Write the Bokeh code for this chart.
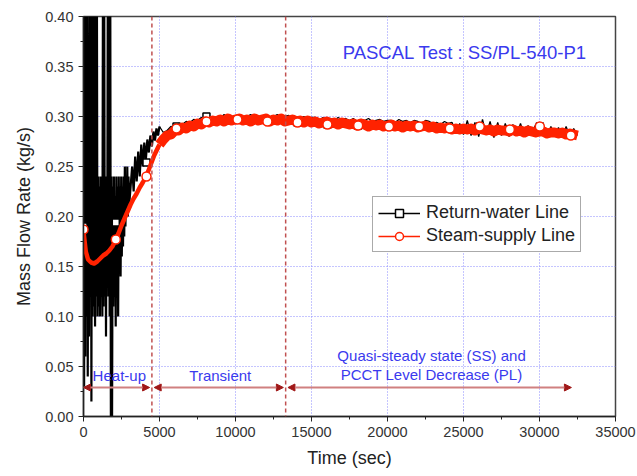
from bokeh.plotting import figure
from bokeh.models import (Range1d, Span, Arrow, NormalHead, Label, Legend, LegendItem,
                          NumeralTickFormatter, FixedTicker)
from bokeh.embed import file_html
from bokeh.resources import INLINE

# ---------------- data ----------------
# Return-water line (black, noisy)
black_early_t = list(range(0, 3001, 40))
black_early_v = [0.19, 0.03, 0.45, 0.06, 0.45, 0.10, 0.45, 0.04, 0.30, 0.08,
                 0.45, 0.12, 0.45, 0.015, 0.45, 0.10, 0.45, 0.11, 0.45, 0.09,
                 0.45, 0.12, 0.45, 0.10, 0.24,
                 0.11, 0.23, 0.10, 0.24, 0.12, 0.22, 0.10, 0.45, 0.11, 0.45,
                 0.12, 0.24, 0.08, 0.23, 0.13, 0.45, 0.12, 0.45, 0.10, 0.45,
                 0.0, 0.24, 0.0, 0.23, 0.11,
                 0.24, 0.12, 0.22, 0.09, 0.24, 0.13, 0.23, 0.10, 0.24, 0.15,
                 0.23, 0.14, 0.24, 0.16, 0.23, 0.17, 0.24, 0.18, 0.25, 0.19,
                 0.24, 0.20, 0.25, 0.20, 0.24,
                 0.21]
black_mid_t = list(range(3100, 5001, 100))
black_mid_v = [0.23, 0.25, 0.225, 0.26, 0.235, 0.265, 0.24, 0.272, 0.25, 0.274,
               0.256, 0.277, 0.264, 0.281, 0.27, 0.285, 0.276, 0.288, 0.281, 0.29]
black_late_t = list(range(5250, 32501, 250))
black_late_v = [0.284, 0.286, 0.290, 0.289, 0.293, 0.292, 0.295, 0.294, 0.297, 0.296,
                0.299, 0.296, 0.301, 0.297, 0.300, 0.298, 0.302, 0.297, 0.300, 0.299,
                0.301, 0.297, 0.300, 0.302, 0.298, 0.301, 0.297, 0.302, 0.299, 0.300,
                0.302, 0.298, 0.300, 0.301, 0.297, 0.300, 0.298, 0.300, 0.297, 0.299,
                0.299, 0.296, 0.299, 0.297, 0.298, 0.296, 0.299, 0.297, 0.298, 0.296,
                0.298, 0.295, 0.297, 0.296, 0.298, 0.295, 0.296, 0.297, 0.295, 0.296,
                0.296, 0.294, 0.297, 0.295, 0.296, 0.294, 0.296, 0.295, 0.293, 0.296,
                0.295, 0.293, 0.294, 0.292, 0.295, 0.293, 0.294, 0.284, 0.293, 0.282,
                0.296, 0.281, 0.294, 0.280, 0.297, 0.282, 0.295, 0.279, 0.294, 0.281,
                0.293, 0.280, 0.292, 0.282, 0.293, 0.281, 0.291, 0.282, 0.292, 0.281,
                0.291, 0.280, 0.290, 0.281, 0.289, 0.279, 0.290, 0.280, 0.288, 0.281]

# Steam-supply line (red)
red_early_t = [0, 150, 300, 500, 700, 900, 1100, 1300, 1500, 1700, 1900, 2100, 2300,
               2500, 2700, 2900, 3100, 3300, 3500, 3700, 3900, 4150, 4400, 4650, 4900, 5000]
red_early_v = [0.185, 0.165, 0.157, 0.154, 0.153, 0.155, 0.158, 0.161, 0.163, 0.166,
               0.170, 0.176, 0.183, 0.191, 0.198, 0.205, 0.212, 0.218, 0.223, 0.229,
               0.234, 0.241, 0.251, 0.261, 0.269, 0.272]
red_late_t = [5000] + list(range(5250, 32501, 250))
red_late_v = [0.272,
              0.277, 0.281, 0.282, 0.286, 0.286, 0.289, 0.288, 0.291, 0.290, 0.293,
              0.292, 0.295, 0.294, 0.296, 0.295, 0.297, 0.295, 0.298, 0.296, 0.297,
              0.298, 0.296, 0.297, 0.295, 0.298, 0.296, 0.297, 0.298, 0.295, 0.297,
              0.296, 0.298, 0.295, 0.296, 0.297, 0.295, 0.296, 0.294, 0.296, 0.294,
              0.295, 0.293, 0.294, 0.295, 0.293, 0.294, 0.292, 0.294, 0.293, 0.292,
              0.293, 0.291, 0.293, 0.292, 0.290, 0.292, 0.291, 0.292, 0.290, 0.291,
              0.292, 0.290, 0.291, 0.289, 0.291, 0.290, 0.291, 0.289, 0.290, 0.291,
              0.289, 0.290, 0.288, 0.289, 0.288, 0.289, 0.287, 0.288, 0.287, 0.288,
              0.287, 0.288, 0.286, 0.288, 0.287, 0.286, 0.287, 0.285, 0.287, 0.286,
              0.286, 0.285, 0.287, 0.285, 0.286, 0.284, 0.286, 0.285, 0.284, 0.285,
              0.285, 0.283, 0.284, 0.284, 0.283, 0.284, 0.282, 0.283, 0.282, 0.281]

# Markers
marker_t = [0, 2125, 4145, 6120, 8090, 10130, 12100, 14080, 16050, 18070, 20100,
            22080, 24100, 26070, 28050, 30020, 32060]
red_marker_v = [0.187, 0.177, 0.240, 0.288, 0.295, 0.297, 0.295, 0.294, 0.292, 0.291,
                0.290, 0.290, 0.288, 0.290, 0.287, 0.290, 0.281]
black_marker_v = [0.190, 0.194, 0.254, 0.290, 0.300, 0.297, 0.296, 0.294, 0.292, 0.291,
                  0.290, 0.290, 0.288, 0.290, 0.287, 0.290, 0.282]

# Phase boundaries (sec) and labels
phase_bounds = [0, 4500, 13300, 32100]
phase_level = 0.029

x_ticks = [0, 5000, 10000, 15000, 20000, 25000, 30000, 35000]
y_ticks = [0.0, 0.05, 0.10, 0.15, 0.20, 0.25, 0.30, 0.35, 0.40]

FONT = "Liberation Sans"
RED = "#ff2200"
BLUE = "#3a3aee"
DRED = "#c05050"

p = figure(width=637, height=476, output_backend="svg", toolbar_location=None,
           x_range=Range1d(0, 35000), y_range=Range1d(0, 0.40),
           min_border_left=83, min_border_right=22, min_border_top=16, min_border_bottom=60)
p.background_fill_color = "white"
p.border_fill_color = "white"
p.outline_line_color = "#444444"
p.outline_line_width = 1.5

p.xaxis.ticker = FixedTicker(ticks=x_ticks, minor_ticks=[2500 + 5000 * i for i in range(7)])
p.yaxis.ticker = FixedTicker(ticks=y_ticks, minor_ticks=[0.025 + 0.05 * i for i in range(8)])
p.yaxis.formatter = NumeralTickFormatter(format="0.00")
p.xaxis.formatter = NumeralTickFormatter(format="0")
for ax in (p.xaxis, p.yaxis):
    ax.axis_line_width = 1.5
    ax.axis_line_color = "#222222"
    ax.major_tick_line_color = "#222222"
    ax.minor_tick_line_color = "#222222"
    ax.major_tick_out = 5
    ax.major_tick_in = 0
    ax.minor_tick_out = 3
    ax.minor_tick_in = 0
    ax.major_label_text_font = FONT
    ax.major_label_text_font_size = "14.5px"
    ax.major_label_text_color = "#333333"
    ax.axis_label_text_font = FONT
    ax.axis_label_text_font_size = "18px"
    ax.axis_label_text_font_style = "normal"
    ax.axis_label_text_color = "#222222"
p.xaxis.axis_label = "Time (sec)"
p.yaxis.axis_label = "Mass Flow Rate (kg/s)"
p.xaxis.axis_label_standoff = 8
p.yaxis.axis_label_standoff = 8

p.xgrid.grid_line_color = "#8a8aff"
p.ygrid.grid_line_color = "#8a8aff"
p.xgrid.grid_line_dash = "1 2"
p.ygrid.grid_line_dash = "1 2"
p.xgrid.grid_line_width = 1
p.ygrid.grid_line_width = 1

# phase boundary lines
for b in phase_bounds[1:3]:
    p.add_layout(Span(location=b, dimension="height", line_color=DRED,
                      line_dash="4 3", line_width=1.5))

# data lines: the noisy start is drawn heavier than the calmer plateau
p.line(black_early_t + black_mid_t, black_early_v + black_mid_v, color="black", line_width=2.2)
p.line(black_mid_t[-1:] + black_late_t, black_mid_v[-1:] + black_late_v, color="black",
       line_width=1.3)
p.scatter(marker_t, black_marker_v, marker="square", size=7, fill_color="white",
          line_color="black", line_width=1.5)
p.line(red_early_t, red_early_v, color=RED, line_width=4.5, line_join="round")
p.line(red_late_t, red_late_v, color=RED, line_width=10, line_join="round")
p.scatter(marker_t, red_marker_v, marker="circle", size=9, fill_color="white",
          line_color=RED, line_width=1.5)

# phase arrows
gap = 150
for i in range(3):
    x0 = phase_bounds[i] + (gap if i > 0 else 0)
    x1 = phase_bounds[i + 1] - (gap if i < 2 else 0)
    p.add_layout(Arrow(start=NormalHead(size=7, fill_color="#a01818", line_color="#a01818"),
                       end=NormalHead(size=7, fill_color="#a01818", line_color="#a01818"),
                       x_start=x0, y_start=phase_level, x_end=x1, y_end=phase_level,
                       line_color="#d08080", line_width=2))

def add_text(x, y, txt, size="15px", align="center"):
    p.add_layout(Label(x=x, y=y, text=txt, text_font=FONT, text_font_size=size,
                       text_color=BLUE, text_align=align, text_baseline="middle"))

add_text(2355, 0.041, "Heat-up")
add_text(9000, 0.041, "Transient")
add_text(22900, 0.061, "Quasi-steady state (SS) and")
add_text(22900, 0.0425, "PCCT Level Decrease (PL)")
add_text(17050, 0.364, "PASCAL Test : SS/PL-540-P1", size="18.5px", align="left")

# legend with thin sample glyphs (data placed outside the visible range)
lb1 = p.line([-9000, -8000], [-1, -1], color="black", line_width=1.5)
lb2 = p.scatter([-9000], [-1], marker="square", size=7, fill_color="white",
                line_color="black", line_width=1.5)
lr1 = p.line([-9000, -8000], [-1, -1], color=RED, line_width=1.5)
lr2 = p.scatter([-9000], [-1], marker="circle", size=9, fill_color="white",
                line_color=RED, line_width=1.5)
legend = Legend(items=[LegendItem(label="Return-water Line", renderers=[lb1, lb2]),
                       LegendItem(label="Steam-supply Line", renderers=[lr1, lr2])],
                location=(289, 164), label_text_font=FONT, label_text_font_size="18px",
                label_text_color="#222222", glyph_width=42, glyph_height=20,
                label_height=20, label_standoff=6, spacing=2, padding=5, margin=0,
                border_line_color="#555555", border_line_width=1.5,
                background_fill_alpha=1.0)
p.add_layout(legend, "center")

open("out.html", "w").write(file_html(p, INLINE))
